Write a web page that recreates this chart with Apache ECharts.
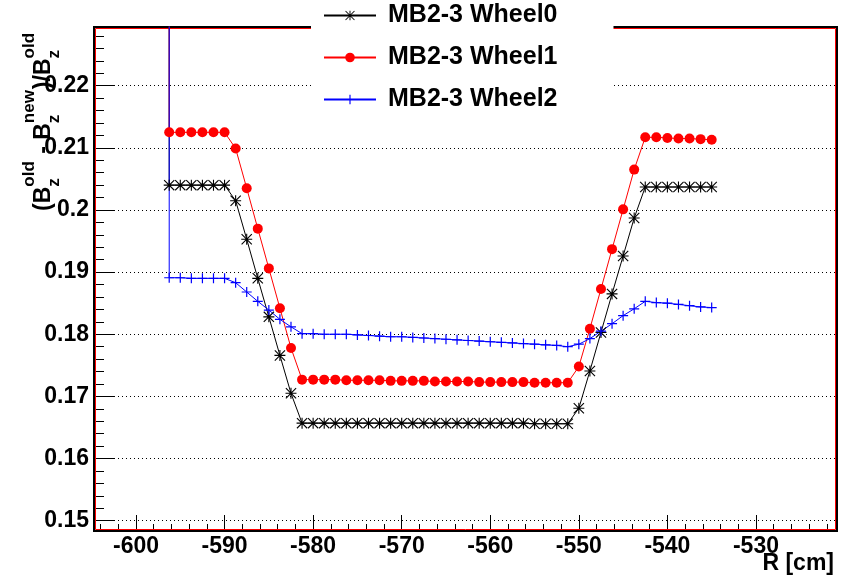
<!DOCTYPE html>
<html><head><meta charset="utf-8">
<script src="https://cdn.jsdelivr.net/npm/echarts@6/dist/echarts.min.js"></script>
<style>html,body{margin:0;padding:0;background:#fff}#c{width:851px;height:584px}</style>
</head><body><div id="c"></div>
<script>
const seriesNames = ['MB2-3 Wheel0', 'MB2-3 Wheel1', 'MB2-3 Wheel2'];
const xTickValues = [-600, -590, -580, -570, -560, -550, -540, -530];
const yTickLabels = ['0.15', '0.16', '0.17', '0.18', '0.19', '0.2', '0.21', '0.22'];
const xAxisTitle = 'R [cm]';
// R positions (first entry: off-scale starting point of each curve)
const rValues = [-596.25, -596.25, -595, -593.75, -592.5, -591.25, -590, -588.75, -587.5, -586.25, -585,
  -583.75, -582.5, -581.25, -580, -578.75, -577.5, -576.25, -575, -573.75, -572.5, -571.25, -570,
  -568.75, -567.5, -566.25, -565, -563.75, -562.5, -561.25, -560, -558.75, -557.5, -556.25, -555,
  -553.75, -552.5, -551.25, -550, -548.75, -547.5, -546.25, -545, -543.75, -542.5, -541.25, -540,
  -538.75, -537.5, -536.25, -535];
const wheel0 = [0.26,
  0.2040, 0.2040, 0.2040, 0.2040, 0.2040, 0.2040,
  0.2015, 0.1953, 0.1890, 0.1828, 0.1766, 0.1705,
  0.1657, 0.1657, 0.1657, 0.1657, 0.1657, 0.1657, 0.1657, 0.1657, 0.1657, 0.1657, 0.1657, 0.1657, 0.1657,
  0.1657, 0.1657, 0.1657, 0.1657, 0.1657, 0.1657, 0.1657, 0.1657, 0.1656, 0.1656, 0.1656, 0.1656,
  0.1681, 0.1741, 0.1803, 0.1865, 0.1926, 0.1987,
  0.2037, 0.2037, 0.2037, 0.2037, 0.2037, 0.2037, 0.2037];
const wheel1 = [0.26,
  0.2125, 0.2125, 0.2125, 0.2125, 0.2125, 0.2125,
  0.2099, 0.2035, 0.1970, 0.1906, 0.1842, 0.1778,
  0.1727,
  0.1727, 0.1727, 0.1727, 0.1726, 0.1726, 0.1726, 0.1726, 0.1725, 0.1725, 0.1725, 0.1725, 0.1724,
  0.1724, 0.1724, 0.1724, 0.1723, 0.1723, 0.1723, 0.1723, 0.1723, 0.1722, 0.1722, 0.1722, 0.1722,
  0.1748, 0.1809, 0.1873, 0.1937, 0.2001, 0.2065,
  0.2117, 0.2117, 0.2116, 0.2115, 0.2115, 0.2114, 0.2113];
const wheel2 = [0.26,
  0.1891, 0.1891, 0.1890, 0.1890, 0.1890, 0.1890,
  0.1883, 0.1868, 0.1853, 0.1839, 0.1824, 0.1812,
  0.1801, 0.1801, 0.1800,
  0.1800, 0.1800, 0.1799, 0.1798, 0.1797, 0.1796, 0.1796, 0.1795, 0.1794, 0.1793, 0.1792,
  0.1791, 0.1790, 0.1789, 0.1788, 0.1787, 0.1786, 0.1785, 0.1784, 0.1783, 0.1782, 0.1780,
  0.1784, 0.1793, 0.1805, 0.1817, 0.1830, 0.1841,
  0.1853, 0.1851, 0.1850, 0.1848, 0.1846, 0.1844, 0.1843];

const STAR = 'path://M0 9H20V11H0ZM9 0H11V20H9ZM0 1.4L1.4 0L20 18.6L18.6 20ZM18.6 0L20 1.4L1.4 20L0 18.6Z';
const PLUS = 'path://M0 8.8H20V11.2H0ZM8.8 0H11.2V20H8.8Z';

const chart = echarts.init(document.getElementById('c'), null, {renderer: 'canvas'});

const G = {left: 94, top: 27, right: 14, bottom: 53};
const W = 851, H = 584;

// y-axis title layout (rotated, with sub/superscripts)
const mctx = document.createElement('canvas').getContext('2d');
function tw(t, f) { mctx.font = f; return mctx.measureText(t).width; }
const FM = 'bold 23px "Liberation Sans"', FS = 'bold 17px "Liberation Sans"';
const SUPY = -14.9, SUBY = 10.1;
const kids = [];
let pos = 0;
function tx(t, f, x, y) {
  return {type: 'text', x: x, y: y, style: {text: t, font: f, fill: '#000', textAlign: 'left', textVerticalAlign: 'middle'}};
}
function mainT(t) { kids.push(tx(t, FM, pos, 0)); pos += tw(t, FM); }
function subSup(sb, sp) {
  kids.push(tx(sb, FS, pos, SUBY)); kids.push(tx(sp, FS, pos, SUPY));
  pos += Math.max(tw(sb, FS), tw(sp, FS)) + 1;
}
mainT('('); mainT('B'); subSup('z', 'old'); mainT(' - '); mainT('B'); subSup('z', 'new');
mainT(')/'); mainT('B'); subSup('z', 'old');

function pts(vals) { return rValues.map((r, i) => [r, vals[i]]); }
function mkSeries(name, vals, color, symbol, size) {
  return {
    name: name, type: 'line', data: pts(vals), symbol: symbol, symbolSize: size,
    showSymbol: true, clip: true, animation: false,
    lineStyle: {width: 1, color: color}, itemStyle: {color: color, borderWidth: 0},
    emphasis: {disabled: true}
  };
}
const xFmt = v => xTickValues.some(t => Math.abs(t - v) < 1e-6) ? String(v) : '';
const yFmt = v => { const s = yTickLabels.find(l => Math.abs(parseFloat(l) - v) < 1e-7); return s || ''; };
const labelFont = {fontSize: 23, fontWeight: 'bold', fontFamily: 'Liberation Sans', color: '#000'};

chart.setOption({
  animation: false,
  backgroundColor: '#fff',
  grid: {left: G.left, top: G.top, right: G.right, bottom: G.bottom, show: true, borderColor: '#000', borderWidth: 2, backgroundColor: 'transparent'},
  xAxis: {
    type: 'value', min: -604.742, max: -520.85, splitNumber: 8,
    axisLine: {show: true, onZero: false, lineStyle: {color: '#000', width: 2}},
    axisTick: {show: true, inside: true, length: 16, lineStyle: {color: '#000', width: 1}},
    minorTick: {show: true, splitNumber: 5, length: 7, lineStyle: {color: '#000', width: 1}},
    splitLine: {show: false},
    axisLabel: Object.assign({margin: 4, formatter: xFmt, showMinLabel: true, showMaxLabel: true, hideOverlap: false}, labelFont)
  },
  yAxis: {
    type: 'value', min: 0.14834, max: 0.22945, splitNumber: 8,
    axisLine: {show: true, onZero: false, lineStyle: {color: '#000', width: 2}},
    axisTick: {show: true, inside: true, length: 20, lineStyle: {color: '#000', width: 1}},
    minorTick: {show: true, splitNumber: 5, length: 10, lineStyle: {color: '#000', width: 1}},
    splitLine: {show: true, lineStyle: {color: '#000', width: 1, type: [1, 3]}},
    axisLabel: Object.assign({margin: 5, formatter: yFmt, hideOverlap: false}, labelFont)
  },
  legend: {
    left: 311, top: 0, orient: 'vertical', backgroundColor: '#fff',
    padding: [3, 56, 12, 12], itemGap: 17, itemWidth: 52, itemHeight: 12,
    selectedMode: false, data: seriesNames,
    textStyle: {fontSize: 25, fontWeight: 'bold', fontFamily: 'Liberation Sans', color: '#000', padding: [0, 0, 0, 7]}
  },
  graphic: [
    {type: 'rect', z: 1, silent: true,
     shape: {x: G.left + 1.5, y: G.top + 1.5, width: W - G.right - G.left - 3, height: H - G.bottom - G.top - 3},
     style: {fill: 'none', stroke: '#ff0000', lineWidth: 1}},
    {type: 'group', x: 44, y: 211, rotation: Math.PI / 2, z: 10, children: kids},
    {type: 'text', z: 10, x: 834, y: 564,
     style: {text: xAxisTitle, font: 'bold 23px "Liberation Sans"', fill: '#000', textAlign: 'right', textVerticalAlign: 'middle'}}
  ],
  series: [
    mkSeries(seriesNames[0], wheel0, '#000000', STAR, 11),
    mkSeries(seriesNames[1], wheel1, '#ff0000', 'circle', 10),
    mkSeries(seriesNames[2], wheel2, '#0000ff', PLUS, 10)
  ]
});
</script></body></html>
